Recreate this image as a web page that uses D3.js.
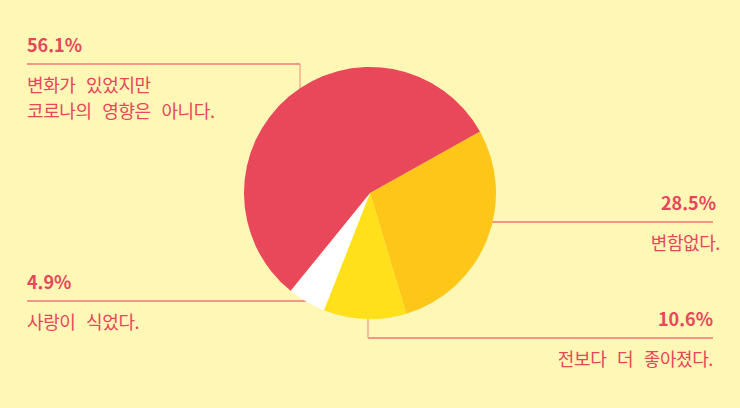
<!DOCTYPE html>
<html lang="ko">
<head>
<meta charset="UTF-8">
<title>코로나와 연애</title>
<script src="https://cdn.jsdelivr.net/npm/d3@7"></script>
<style>
  html, body { margin: 0; padding: 0; background: #fff7b6; }
  svg { display: block; }
  .pct { font: 700 18px "Noto Sans CJK KR", "Noto Sans", sans-serif; fill: #e8465a; }
  .desc { font: 400 18px "Noto Sans CJK KR", "Noto Sans", sans-serif; fill: #e8465a;
          letter-spacing: -0.4px; word-spacing: 6px; }
  .leader { fill: none; stroke-width: 1.3px; }
  .leader.h { stroke: #f07478; }
  .leader.v { stroke: #f6a28c; }
</style>
</head>
<body>
<script>
// answers, in the order the slices run clockwise from the orange one
var answers = ["변함없다.", "전보다 더 좋아졌다.", "사랑이 식었다.", "변화가 있었지만\n코로나의 영향은 아니다."];
var shares = [28.5, 10.6, 4.9, 56.1];
var colors = ["#fdc619", "#ffe01a", "#ffffff", "#e9475a"];

var width = 740, height = 408;
var cx = 370, cy = 193, radius = 126;

// where each label block sits (horizontal run of the leader, optional vertical drop)
var layout = [
  { side: "right", x0: 490, x1: 713, y: 222 },
  { side: "right", x0: 368, x1: 713, y: 338, drop: 318 },
  { side: "left",  x0: 27,  x1: 306, y: 301 },
  { side: "left",  x0: 27,  x1: 300, y: 64, drop: 90 }
];

var svg = d3.select("body").append("svg")
    .attr("width", width)
    .attr("height", height);

// leader lines go under the pie
var leaders = svg.append("g");
layout.forEach(function(l) {
  leaders.append("path")
      .attr("class", "leader h")
      .attr("d", d3.line()([[l.x0, l.y], [l.x1, l.y]]));
  if (l.drop !== undefined) {
    var vx = l.side === "left" ? l.x1 : l.x0;
    leaders.append("path")
        .attr("class", "leader v")
        .attr("d", d3.line()([[vx, l.y], [vx, l.drop]]));
  }
});

var startDeg = 60.8;
var pie = d3.pie()
    .sort(null)
    .value(function(d) { return d; })
    .startAngle(startDeg * Math.PI / 180)
    .endAngle((startDeg + 360) * Math.PI / 180);

var arc = d3.arc().innerRadius(0).outerRadius(radius);

svg.append("g")
    .attr("transform", "translate(" + cx + "," + cy + ")")
  .selectAll("path")
  .data(pie(shares))
  .enter().append("path")
    .attr("d", arc)
    .attr("fill", function(d, i) { return colors[i]; });

// labels
layout.forEach(function(l, i) {
  var left = l.side === "left";
  var anchor = left ? "start" : "end";

  svg.append("text")
      .attr("class", "pct")
      .attr("x", left ? l.x0 : l.x1 + (i === 0 ? 3 : 0))
      .attr("y", l.y - 12)
      .attr("text-anchor", anchor)
      .text(d3.format(".1f")(shares[i]) + "%");

  var lines = answers[i].split("\n");
  lines.forEach(function(s, k) {
    svg.append("text")
        .attr("class", "desc")
        .attr("x", left ? l.x0 : l.x1 + (i === 0 ? 7 : 0))
        .attr("y", l.y + 28 + k * 26)
        .attr("text-anchor", anchor)
        .text(s);
  });
});
</script>
</body>
</html>
